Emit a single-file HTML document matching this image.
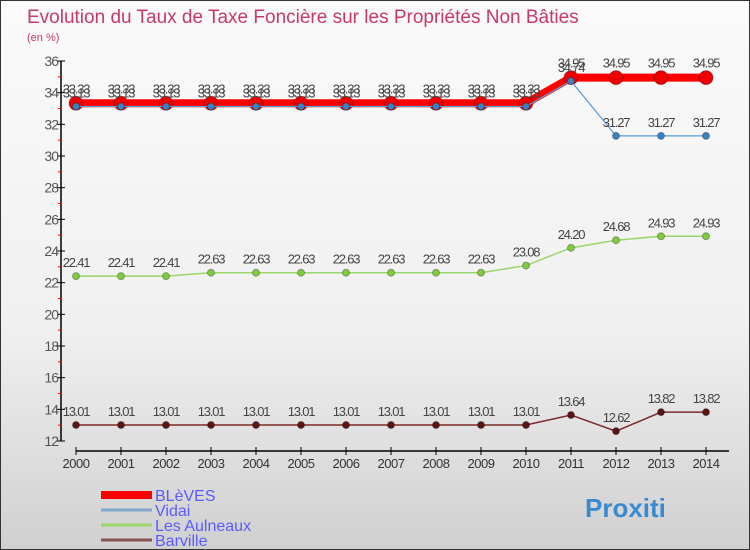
<!DOCTYPE html>
<html><head><meta charset="utf-8"><style>
body{margin:0}
#c{width:750px;height:550px;position:relative;overflow:hidden;background:linear-gradient(#fafafa,#f0f0f0 60%,#d0d0d0);font-family:"Liberation Sans",sans-serif;box-sizing:border-box;border:1px solid #333}
</style></head><body>
<div id="c">
<svg id="s" width="750" height="550" xmlns="http://www.w3.org/2000/svg"></svg>
</div>
<script>
const years=[2000,2001,2002,2003,2004,2005,2006,2007,2008,2009,2010,2011,2012,2013,2014];
const bleves=[33.33,33.33,33.33,33.33,33.33,33.33,33.33,33.33,33.33,33.33,33.33,34.95,34.95,34.95,34.95];
const vidai=[33.13,33.13,33.13,33.13,33.13,33.13,33.13,33.13,33.13,33.13,33.13,34.74,31.27,31.27,31.27];
const aulneaux=[22.41,22.41,22.41,22.63,22.63,22.63,22.63,22.63,22.63,22.63,23.08,24.2,24.68,24.93,24.93];
const barville=[13.01,13.01,13.01,13.01,13.01,13.01,13.01,13.01,13.01,13.01,13.01,13.64,12.62,13.82,13.82];
const yTicks=[12,14,16,18,20,22,24,26,28,30,32,34,36];
const seriesNames=["BLèVES","Vidai","Les Aulneaux","Barville"];
const s=document.getElementById('s');const NS='http://www.w3.org/2000/svg';
const X=i=>75+i*45, Y=v=>440-(v-12)*(380/24);
function mk(t,a,p){const e=document.createElementNS(NS,t);for(const k in a)e.setAttribute(k,a[k]);(p||s).appendChild(e);return e;}
let t=mk('text',{x:26,y:22,'font-size':19,fill:'#c8386a'});t.textContent='Evolution du Taux de Taxe Foncière sur les Propriétés Non Bâties';

t=mk('text',{x:26,y:40,'font-size':11,fill:'#c8386a'});t.textContent='(en %)';

let l=mk('line',{x1:60,y1:60,x2:60,y2:440,stroke:'#000','stroke-width':1.5});

yTicks.forEach(v=>{mk('line',{x1:56,x2:64,y1:Y(v),y2:Y(v),stroke:'#000'});
 if(v<36)mk('line',{x1:57,x2:61,y1:Y(v+1),y2:Y(v+1),stroke:'red'});
 const tt=mk('text',{x:57,y:Y(v)+5,'font-size':14,fill:'#555','text-anchor':'end','letter-spacing':'-1'});tt.textContent=v;
 });
l=mk('line',{x1:75,y1:450,x2:728,y2:450,stroke:'#000','stroke-width':1.5});

years.forEach((y,i)=>{mk('line',{x1:X(i),x2:X(i),y1:446,y2:454,stroke:'#000'});
 const tt=mk('text',{x:X(i),y:467,'font-size':13,fill:'#333','text-anchor':'middle','letter-spacing':'-0.5'});tt.textContent=y;
 });
function series(d,col,w,r,fill,name,lblDy){
 const g=mk('g',{});
 mk('polyline',{points:d.map((v,i)=>X(i)+','+Y(v)).join(' '),fill:'none',stroke:col,'stroke-width':w},g);
 d.forEach((v,i)=>{const c=mk('circle',{cx:X(i),cy:Y(v),r:r,fill:fill,stroke:'rgba(0,0,0,0.3)'},g);
  
  const tt=mk('text',{x:X(i),y:Y(v)+lblDy,'font-size':13,fill:'#444','text-anchor':'middle','letter-spacing':'-1.2'},g);tt.textContent=v.toFixed(2);});}
series(bleves,'#f00',8,7,'#e00','bleves',-10);
series(vidai,'#5b9bd5',1.2,3.5,'#3a82c4','vidai',-9);
series(aulneaux,'#9ad66a',1.5,3.5,'#80cc40','aulneaux',-9);
series(barville,'#7a2a2a',1.5,3.5,'#5a1515','barville',-9);
const lc=['#f00','#7fa8cc','#9ad66a','#8a5555'],lw=[8,3,3,3];
seriesNames.forEach((n,i)=>{const y=498+i*15;
 const g=mk('g',{});
 mk('line',{x1:100,x2:151,y1:y-4,y2:y-4,stroke:lc[i],'stroke-width':lw[i]},g);
 const tt=mk('text',{x:154,y:y+2,'font-size':16,fill:'#5a5aff'},g);tt.textContent=n;});
const lg=mk('text',{x:584,y:516,'font-size':26,'font-weight':'bold',fill:'#3a8ad0'});lg.textContent='Proxiti';

</script>
</body></html>
